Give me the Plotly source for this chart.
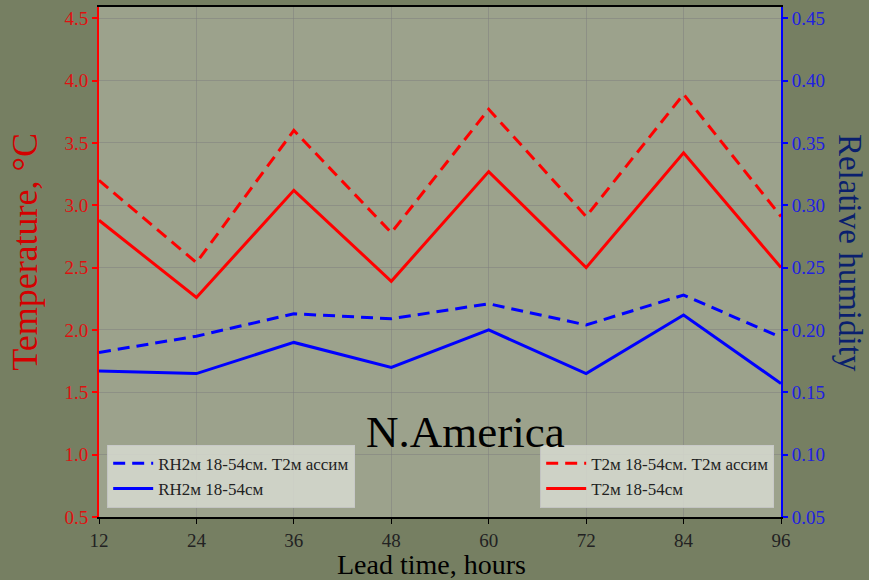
import plotly.graph_objects as go

lead_hours = [12, 24, 36, 48, 60, 72, 84, 96]
t2m_assim = [3.20, 2.54, 3.60, 2.78, 3.77, 2.91, 3.89, 2.91]
t2m_base = [2.88, 2.26, 3.12, 2.39, 3.27, 2.50, 3.42, 2.50]
rh2m_assim = [0.182, 0.195, 0.213, 0.209, 0.221, 0.204, 0.228, 0.194]
rh2m_base = [0.167, 0.165, 0.190, 0.170, 0.200, 0.165, 0.212, 0.157]

left_ticks = [0.5, 1.0, 1.5, 2.0, 2.5, 3.0, 3.5, 4.0, 4.5]
right_ticks = [0.05, 0.10, 0.15, 0.20, 0.25, 0.30, 0.35, 0.40, 0.45]

FONT = "Liberation Serif"
RED = "#ff0000"
BLUE = "#0000ff"

fig = go.Figure()
fig.add_trace(go.Scatter(x=lead_hours, y=rh2m_assim, mode="lines", name="RH2м 18-54см. T2м ассим",
                         line=dict(color=BLUE, width=3, dash="12px,7px"), yaxis="y2", legend="legend"))
fig.add_trace(go.Scatter(x=lead_hours, y=rh2m_base, mode="lines", name="RH2м 18-54см",
                         line=dict(color=BLUE, width=3), yaxis="y2", legend="legend"))
fig.add_trace(go.Scatter(x=lead_hours, y=t2m_assim, mode="lines", name="T2м 18-54см. T2м ассим",
                         line=dict(color=RED, width=3, dash="12px,7px"), yaxis="y", legend="legend2"))
fig.add_trace(go.Scatter(x=lead_hours, y=t2m_base, mode="lines", name="T2м 18-54см",
                         line=dict(color=RED, width=3), yaxis="y", legend="legend2"))

legend_common = dict(bgcolor="rgba(215,218,208,0.85)", bordercolor="rgba(200,200,200,0.9)", borderwidth=1,
                     font=dict(family=FONT, size=17, color="#222222"), yanchor="bottom", y=0.018,
                     tracegroupgap=0, itemwidth=40)

GRID = "rgba(125,125,125,0.5)"

fig.update_layout(
    width=869, height=580,
    paper_bgcolor="#767f62", plot_bgcolor="#9ca28c",
    margin=dict(l=99, r=88, t=7, b=63, autoexpand=False),
    font=dict(family=FONT),
    xaxis=dict(range=[12, 96], tickvals=lead_hours, ticks="outside", ticklen=5, tickcolor="black",
               tickfont=dict(family=FONT, size=19, color="#222222"),
               showgrid=True, gridcolor=GRID, gridwidth=1,
               showline=True, linecolor="black", linewidth=2, mirror=True, zeroline=False),
    yaxis=dict(range=[0.5, 4.59], tickvals=left_ticks, ticktext=[f"{v:.1f}" for v in left_ticks],
               ticks="outside", ticklen=5, tickcolor=RED, tickwidth=2,
               tickfont=dict(family=FONT, size=19, color="#e01010"),
               showgrid=True, gridcolor=GRID, gridwidth=1,
               showline=True, linecolor=RED, linewidth=2, zeroline=False),
    yaxis2=dict(range=[0.05, 0.459], tickvals=right_ticks, ticktext=[f"{v:.2f}" for v in right_ticks],
                overlaying="y", side="right", ticks="outside", ticklen=5, tickcolor=BLUE, tickwidth=2,
                tickfont=dict(family=FONT, size=19, color="#2020e0"),
                showgrid=False, showline=True, linecolor=BLUE, linewidth=2, zeroline=False),
    legend=dict(x=0.012, xanchor="left", **legend_common),
    legend2=dict(x=0.99, xanchor="right", **legend_common),
    annotations=[
        dict(text="N.America", x=0.538, y=0.167, xref="paper", yref="paper", showarrow=False,
             font=dict(family=FONT, size=45, color="black"), xanchor="center", yanchor="middle"),
        dict(text="Temperature, °C", x=-0.1085, y=0.52, xref="paper", yref="paper", showarrow=False,
             textangle=-90, font=dict(family=FONT, size=36, color="#d40000"), xanchor="center", yanchor="middle"),
        dict(text="Relative humidity", x=1.101, y=0.518, xref="paper", yref="paper", showarrow=False,
             textangle=90, font=dict(family=FONT, size=33, color="#0a1f6e"), xanchor="center", yanchor="middle"),
        dict(text="Lead time, hours", x=0.4875, y=-0.094, xref="paper", yref="paper", showarrow=False,
             font=dict(family=FONT, size=28, color="black"), xanchor="center", yanchor="middle"),
    ],
    showlegend=True,
)

fig.write_html("out.html", config={"displayModeBar": False},
               post_script="document.body.style.margin='0';document.body.style.padding='0';")
